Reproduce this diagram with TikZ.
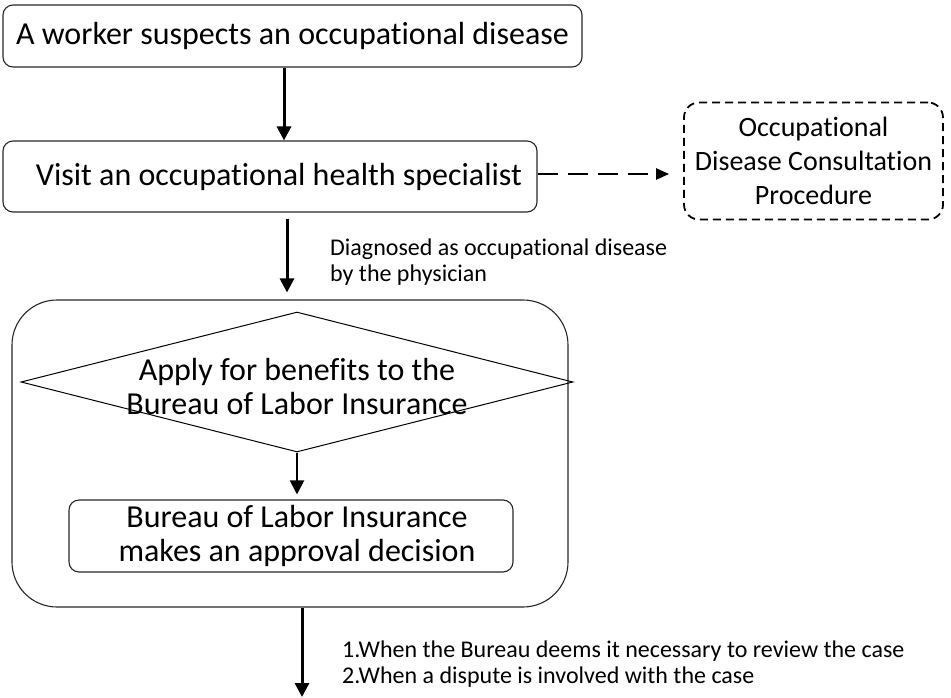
\documentclass[tikz,border=0pt]{standalone}
\usepackage{fontspec}
\setmainfont{Carlito}[Ligatures=NoCommon]
\usetikzlibrary{shapes.geometric,arrows.meta}
\tikzset{
  box/.style={draw=black!85, line width=1.1pt, rounded corners=10pt, inner sep=0pt, align=center},
  dbox/.style={draw=black, line width=1.8pt, dash pattern=on 8pt off 5pt, rounded corners=15pt, inner sep=0pt, align=center},
  arr/.style={line width=3pt, -{Triangle[width=14pt,length=14pt]}},
  thinarr/.style={line width=2pt, -{Triangle[width=14pt,length=14pt]}},
  darr/.style={line width=2.4pt, dash pattern=on 20pt off 10pt, -{Triangle[width=11pt,length=13pt]}},
  big/.style={font=\fontsize{32}{34}\selectfont},
  mid/.style={font=\fontsize{28}{34}\selectfont},
  lbl/.style={font=\fontsize{24}{26}\selectfont, align=left, anchor=west, inner sep=0pt}
}
\begin{document}
\begin{tikzpicture}[x=1pt,y=-1pt]
\useasboundingbox (0,0) rectangle (951,697);
\node[box, big, minimum width=579pt, minimum height=62pt] (b1) at (292.5,36) {A worker suspects an occupational disease};
\node[box, big, minimum width=534pt, minimum height=71pt] (b2) at (270,176.5) {\hspace*{18pt}Visit an occupational health specialist};
\node[dbox, mid, minimum width=259pt, minimum height=117pt] (db) at (813.5,161) {Occupational\\Disease Consultation\\Procedure};
\node[box, rounded corners=45pt, minimum width=556pt, minimum height=307pt] (bg) at (290,453.5) {};
\node[diamond, draw=black, line width=1pt, inner sep=0pt, minimum width=552pt, minimum height=140pt] (dia) at (297,382) {};
\node[big, align=center, inner sep=0pt] (diat) at (297,386) {Apply for benefits to the\\Bureau of Labor Insurance};
\node[box, big, minimum width=444pt, minimum height=72pt] (b3) at (291,536) {\hspace*{12pt}Bureau of Labor Insurance\\\hspace*{12pt}makes an approval decision};
\coordinate (x1) at (284,0);
\coordinate (x2) at (287,0);
\coordinate (x4) at (302,0);
\coordinate (dy) at (0,174);
\coordinate (endb) at (302,697);
\draw[arr] (b1.south -| x1) -- (b2.north -| x1);
\draw[arr, shorten <=6pt, shorten >=7pt] (b2.south -| x2) -- (bg.north -| x2);
\draw[darr, shorten >=14pt] (b2.east |- dy) -- (db.west |- dy);
\draw[thinarr, shorten >=5pt] (dia.south) -- (b3.north -| dia.south);
\draw[arr] (bg.south -| x4) -- (endb);
\node[lbl] (l1) at (330,262) {Diagnosed as occupational disease\\by the physician};
\node[lbl] (l2) at (342,664) {1.When the Bureau deems it necessary to review the case\\2.When a dispute is involved with the case};
\end{tikzpicture}
\end{document}
